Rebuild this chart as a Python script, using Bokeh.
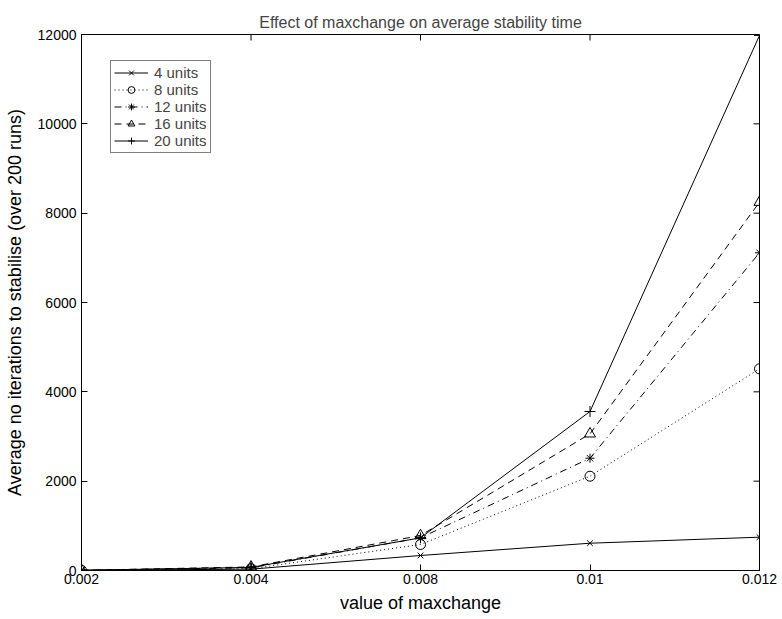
import math
from bokeh.plotting import figure
from bokeh.models import Range1d, FixedTicker, Legend, LegendItem, Title
from bokeh.embed import file_html
from bokeh.resources import INLINE

# ---- data ----
x_labels = ["0.002", "0.004", "0.008", "0.01", "0.012"]
units_4 = [5, 30, 336, 611, 746]
units_8 = [5, 40, 582, 2111, 4516]
units_12 = [5, 60, 731, 2514, 7113]
units_16 = [5, 80, 783, 3060, 8246]
units_20 = [5, 70, 731, 3560, 11980]
y_ticks = [0, 2000, 4000, 6000, 8000, 10000, 12000]

series = [
    ("4 units", units_4, "x", "solid", 8),
    ("8 units", units_8, "circle", "1 3", 10),
    ("12 units", units_12, "asterisk", "7 4 1 4", 9),
    ("16 units", units_16, "triangle", "7 5", 11),
    ("20 units", units_20, "cross", "solid", 11),
]

FONT = "Liberation Sans"
xs = list(range(len(x_labels)))
x_max = xs[-1]
y_max = y_ticks[-1]

p = figure(width=780, height=619, output_backend="svg", toolbar_location=None,
           x_range=Range1d(0, x_max), y_range=Range1d(0, y_max),
           min_border_left=81, min_border_right=21, min_border_top=34, min_border_bottom=49)
p.title = None
p.add_layout(Title(text="Effect of maxchange on average stability time", align="center",
                   text_font=FONT, text_font_size="16px", text_font_style="normal",
                   standoff=8, offset=0), "above")
p.xgrid.visible = False
p.ygrid.visible = False
p.outline_line_color = "black"
p.outline_line_width = 1
p.background_fill_color = "white"
p.border_fill_color = "white"

xax = p.xaxis[0]
xax.ticker = FixedTicker(ticks=xs)
xax.major_label_overrides = {i: lab for i, lab in zip(xs, x_labels)}
yax = p.yaxis[0]
yax.ticker = FixedTicker(ticks=y_ticks)
xax.axis_label = "value of maxchange"
yax.axis_label = "Average no iterations to stabilise (over 200 runs)"
for ax in (xax, yax):
    ax.major_tick_in = 6
    ax.major_tick_out = 0
    ax.minor_tick_in = 0
    ax.minor_tick_out = 0
    ax.axis_line_color = "black"
    ax.major_tick_line_color = "black"
    ax.major_label_text_font = FONT
    ax.major_label_text_font_size = "14px"
    ax.major_label_text_color = "black"
    ax.axis_label_text_font = FONT
    ax.axis_label_text_font_size = "18px"
    ax.axis_label_text_font_style = "normal"
    ax.axis_label_text_color = "black"
xax.major_label_standoff = 3
xax.axis_label_standoff = 6
yax.major_label_standoff = 5
yax.axis_label_standoff = 10

# mirrored inward ticks on the top and right edges (clipped to the frame)
p.scatter([x_max] * len(y_ticks), y_ticks, marker="dash", size=12, line_color="black", line_width=1)
p.scatter(xs, [y_max] * len(xs), marker="dash", angle=math.pi / 2, size=12,
          line_color="black", line_width=1)

items = []
for name, vals, marker, dash, size in series:
    r1 = p.line(xs, vals, line_color="black", line_width=1, line_dash=dash)
    r2 = p.scatter(xs, vals, marker=marker, size=size, line_color="black",
                   fill_color=None, line_width=1)
    items.append(LegendItem(label=name, renderers=[r1, r2]))

legend = Legend(items=items, location=(29, 417), margin=0, padding=3,
                glyph_width=34, glyph_height=17, label_height=17, spacing=0,
                label_standoff=6, label_text_font=FONT, label_text_font_size="15px",
                border_line_color="black", border_line_width=1,
                background_fill_color="white", background_fill_alpha=1)
p.add_layout(legend, "center")

open("out.html", "w").write(file_html(p, INLINE))
